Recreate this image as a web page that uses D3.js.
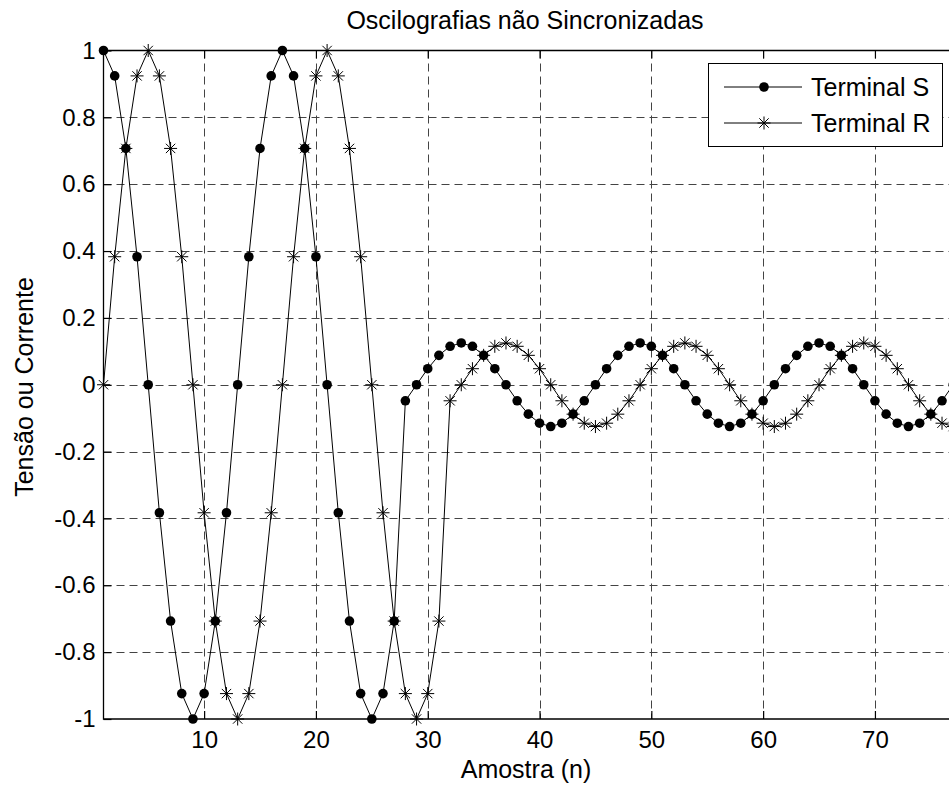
<!DOCTYPE html>
<html lang="pt">
<head>
<meta charset="UTF-8">
<title>Oscilografias não Sincronizadas</title>
<style>
  body { margin: 0; background: #fff; }
  text { font-family: "Liberation Sans", Arial, sans-serif; fill: #000; }
</style>
</head>
<body>
<svg id="container" width="949" height="789"></svg>

<script src="https://cdn.jsdelivr.net/npm/d3@7"></script>
<script>
// sample values (n = 1, 2, 3, ...)
const terminalS = [
  1, 0.924, 0.707, 0.383, 0, -0.383, -0.707, -0.924, -1, -0.924, -0.707, -0.383, 0,
  0.383, 0.707, 0.924, 1, 0.924, 0.707, 0.383, 0, -0.383, -0.707, -0.924, -1, -0.924, -0.707,
  -0.048,
  0, 0.048, 0.088, 0.115, 0.125, 0.115, 0.088, 0.048, 0, -0.048, -0.088, -0.115, -0.125, -0.115, -0.088, -0.048,
  0, 0.048, 0.088, 0.115, 0.125, 0.115, 0.088, 0.048, 0, -0.048, -0.088, -0.115, -0.125, -0.115, -0.088, -0.048,
  0, 0.048, 0.088, 0.115, 0.125, 0.115, 0.088, 0.048, 0, -0.048, -0.088, -0.115, -0.125, -0.115, -0.088, -0.048,
  0
]
const terminalR = [
  0, 0.383, 0.707, 0.924, 1, 0.924, 0.707, 0.383, 0, -0.383, -0.707, -0.924, -1,
  -0.924, -0.707, -0.383, 0, 0.383, 0.707, 0.924, 1, 0.924, 0.707, 0.383, 0, -0.383,
  -0.707, -0.924, -1, -0.924, -0.707,
  -0.048,
  0, 0.048, 0.088, 0.115, 0.125, 0.115, 0.088, 0.048, 0, -0.048, -0.088, -0.115, -0.125, -0.115, -0.088, -0.048,
  0, 0.048, 0.088, 0.115, 0.125, 0.115, 0.088, 0.048, 0, -0.048, -0.088, -0.115, -0.125, -0.115, -0.088, -0.048,
  0, 0.048, 0.088, 0.115, 0.125, 0.115, 0.088, 0.048, 0, -0.048, -0.088, -0.115, -0.125
]
const seriesNames = ["Terminal S", "Terminal R"]
const xTicks = [10, 20, 30, 40, 50, 60, 70]
const yTicks = [-1, -0.8, -0.6, -0.4, -0.2, 0, 0.2, 0.4, 0.6, 0.8, 1]
const yTickLabels = ["-1", "-0.8", "-0.6", "-0.4", "-0.2", "0", "0.2", "0.4", "0.6", "0.8", "1"]

let svg = d3.select("#container")
let plotLeft = 103.5, plotRight = 953.2, plotTop = 50.5, plotBottom = 719
let fontSize = 25
let tickFontSize = 24

let x = d3.scaleLinear().domain([1, 77]).range([plotLeft, plotRight])
let y = d3.scaleLinear().domain([-1, 1]).range([plotBottom, plotTop])

// dashed grid
let grid = svg.append("g")
    .attr("stroke", "#444")
    .attr("stroke-width", 1)
    .attr("stroke-dasharray", "8,5")
grid.selectAll(".gx").data(xTicks).enter().append("line")
    .attr("x1", d => Math.round(x(d)) + 0.5).attr("x2", d => Math.round(x(d)) + 0.5)
    .attr("y1", plotTop).attr("y2", plotBottom)
grid.selectAll(".gy").data(yTicks.filter(d => d > -1 && d < 1)).enter().append("line")
    .attr("y1", d => Math.round(y(d)) + 0.5).attr("y2", d => Math.round(y(d)) + 0.5)
    .attr("x1", plotLeft).attr("x2", plotRight)

// axes with inward ticks
let xAxis = svg.append("g")
    .attr("transform", `translate(0,${plotBottom})`)
    .call(d3.axisBottom(x).tickValues(xTicks).tickSize(-8).tickPadding(12).tickSizeOuter(0))
let xTop = svg.append("g")
    .attr("transform", `translate(0,${plotTop})`)
    .call(d3.axisTop(x).tickValues(xTicks).tickSize(-8).tickFormat("").tickSizeOuter(0))
let yAxis = svg.append("g")
    .attr("transform", `translate(${plotLeft},0)`)
    .call(d3.axisLeft(y).tickValues(yTicks).tickSize(-8).tickPadding(8).tickSizeOuter(0)
        .tickFormat((d, i) => yTickLabels[i]))

for (let g of [xAxis, xTop, yAxis]) {
    g.selectAll("path.domain").remove()
    g.selectAll("line").attr("stroke", "#000").attr("stroke-width", 1.2)
    g.selectAll("text")
        .attr("font-size", tickFontSize)
        .attr("font-family", "Liberation Sans, Arial, sans-serif")
        .attr("fill", "#000")
}

// box
svg.append("path")
    .attr("d", `M${plotRight},${plotTop}H${plotLeft}V${plotBottom}H${plotRight}`)
    .attr("fill", "none")
    .attr("stroke", "#000")
    .attr("stroke-width", 1.3)

// series
let line = d3.line().x((d, i) => x(i + 1)).y(d => y(d))

function starPath(s) {
    let d = s * 0.72
    return `M${-s},0H${s}M0,${-s}V${s}M${-d},${-d}L${d},${d}M${-d},${d}L${d},${-d}`
}

svg.append("path").datum(terminalS)
    .attr("d", line)
    .attr("fill", "none").attr("stroke", "#000").attr("stroke-width", 1)
svg.append("path").datum(terminalR)
    .attr("d", line)
    .attr("fill", "none").attr("stroke", "#000").attr("stroke-width", 1)

svg.append("g").selectAll("circle").data(terminalS).enter().append("circle")
    .attr("cx", (d, i) => x(i + 1))
    .attr("cy", d => y(d))
    .attr("r", 4.8)
    .attr("fill", "#000")

svg.append("g").selectAll("path").data(terminalR).enter().append("path")
    .attr("transform", (d, i) => `translate(${x(i + 1)},${y(d)})`)
    .attr("d", starPath(6.5))
    .attr("fill", "none")
    .attr("stroke", "#000")
    .attr("stroke-width", 1)

// legend
let legend = svg.append("g")
legend.append("rect")
    .attr("x", 708.5).attr("y", 63.5)
    .attr("width", 234).attr("height", 83)
    .attr("fill", "#fff").attr("stroke", "#000").attr("stroke-width", 1)
let rows = [87, 123]
legend.selectAll("line").data(seriesNames).enter().append("line")
    .attr("x1", 724).attr("x2", 802)
    .attr("y1", (d, i) => rows[i]).attr("y2", (d, i) => rows[i])
    .attr("stroke", "#000").attr("stroke-width", 1)
legend.append("circle")
    .attr("cx", 764).attr("cy", rows[0]).attr("r", 4.8).attr("fill", "#000")
legend.append("path")
    .attr("transform", `translate(764,${rows[1]})`)
    .attr("d", starPath(6.5))
    .attr("fill", "none").attr("stroke", "#000")
legend.selectAll("text").data(seriesNames).enter().append("text")
    .attr("x", 811)
    .attr("y", (d, i) => rows[i] + 9)
    .attr("font-size", fontSize)
    .text(d => d)

// titles
svg.append("text")
    .attr("x", 525).attr("y", 29)
    .attr("text-anchor", "middle")
    .attr("font-size", fontSize)
    .text("Oscilografias não Sincronizadas")
svg.append("text")
    .attr("x", 526).attr("y", 778)
    .attr("text-anchor", "middle")
    .attr("font-size", fontSize)
    .text("Amostra (n)")
svg.append("text")
    .attr("transform", "translate(33,387) rotate(-90)")
    .attr("text-anchor", "middle")
    .attr("font-size", fontSize)
    .text("Tensão ou Corrente")
</script>
</body>
</html>
